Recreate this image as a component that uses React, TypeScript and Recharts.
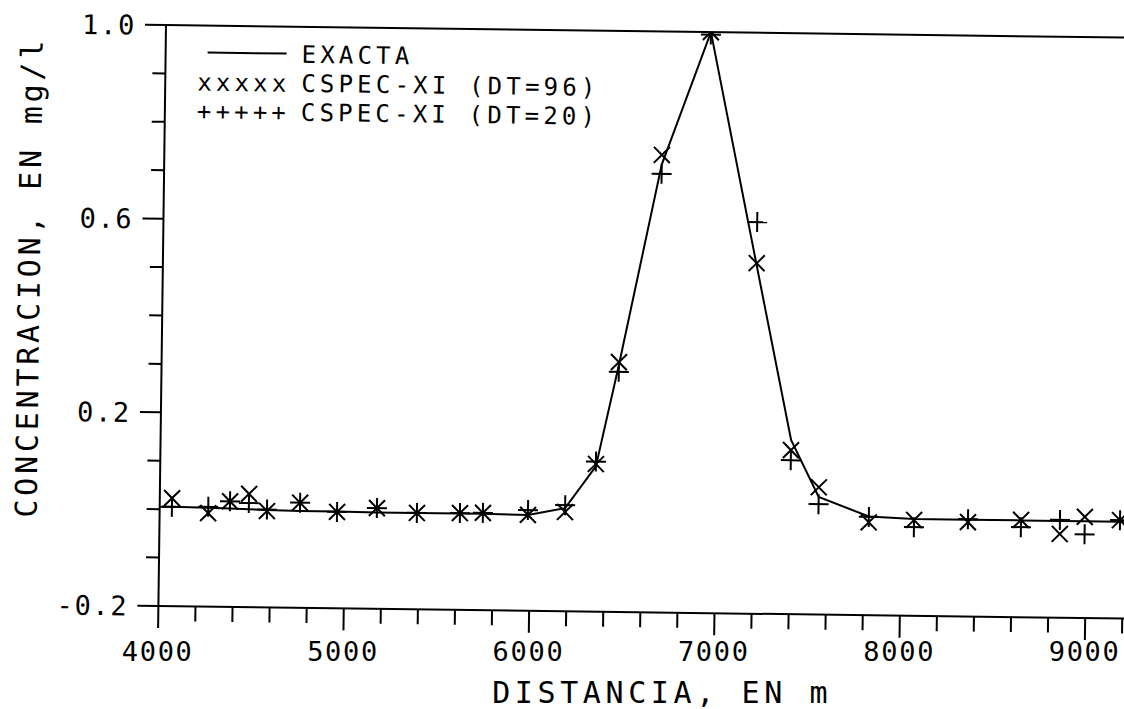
import {
  ComposedChart,
  Line,
  Scatter,
  XAxis,
  YAxis,
  ReferenceLine,
  Customized,
} from "recharts";

// distances (m) where the numerical solutions were sampled
const MARKER_X = [
  4066, 4262, 4379, 4481, 4579, 4757, 4957, 5172, 5388, 5620, 5744, 5987,
  6187, 6350, 6467, 6684, 6940, 7203, 7401, 7554, 7826, 8070, 8361, 8647,
  8857, 8991, 9181,
];
const DT96 = [
  0.023, -0.007, 0.018, 0.034, -0.001, 0.017, -0.001, 0.008, -0.001, 0.0,
  0.001, -0.002, 0.005, 0.105, 0.316, 0.745, 1.0, 0.524, 0.139, 0.063,
  -0.008, -0.002, -0.005, 0.001, -0.027, 0.009, 0.003,
];
const DT20 = [
  0.005, 0.006, 0.018, 0.015, 0.002, 0.017, -0.001, 0.008, -0.001, 0.0,
  0.001, 0.008, 0.019, 0.11, 0.296, 0.706, 0.995, 0.609, 0.118, 0.028,
  0.003, -0.017, 0.001, -0.014, 0.002, -0.027, 0.003,
];

const EXACT_X = [
  4000, 4066, 4262, 4379, 4481, 4579, 4757, 4957, 5172, 5388, 5620, 5744,
  5987, 6187, 6350, 6467, 6684, 6940, 7203, 7401, 7554, 7826, 8070, 8361,
  8647, 8857, 8991, 9181, 9400,
];
const EXACT_Y = [
  0.005, 0.005, 0.004, 0.003, 0.002, 0.001, 0.0, 0.0, -0.001, -0.001,
  -0.001, -0.001, -0.002, 0.013, 0.1, 0.31, 0.725, 1.0, 0.52, 0.16, 0.043,
  0.004, 0.0, 0.0, 0.0, 0.0, 0.0, 0.0, 0.0,
];

const X_TICKS = [
  4000, 4200, 4400, 4600, 4800, 5000, 5200, 5400, 5600, 5800, 6000, 6200,
  6400, 6600, 6800, 7000, 7200, 7400, 7600, 7800, 8000, 8200, 8400, 8600,
  8800, 9000, 9200, 9400,
];
const X_MAJOR = [4000, 5000, 6000, 7000, 8000, 9000];
const Y_TICKS = [-0.2, -0.1, 0, 0.1, 0.2, 0.3, 0.4, 0.5, 0.6, 0.7, 0.8, 0.9, 1.0];
const Y_MAJOR = [-0.2, 0.2, 0.6, 1.0];

const LEGEND = [
  { swatch: "line", label: "EXACTA" },
  { swatch: "xxxxx", label: "CSPEC-XI (DT=96)" },
  { swatch: "+++++", label: "CSPEC-XI (DT=20)" },
];

const X_TITLE = "DISTANCIA, EN m";
const Y_TITLE = "CONCENTRACION, EN mg/l";

// the scanned plot is turned slightly clockwise
const TILT = 0.75;
const SIN = Math.sin((TILT * Math.PI) / 180);
const PLOT_LEFT = 166;
const PLOT_TOP = 25;
const CHART_W = 1200;
const CHART_H = 709;

const FONT = "'DejaVu Sans Mono', 'Liberation Mono', monospace";
const tickFont = { fontFamily: FONT, fontSize: 27, letterSpacing: 1.7, fill: "#000" };
const legendFont = { fontFamily: FONT, fontSize: 24, letterSpacing: 4.2, fill: "#000" };
const titleFont = { fontFamily: FONT, fontSize: 30, letterSpacing: 4.6, fill: "#000" };

const exactData = EXACT_X.map((x, i) => ({ x, y: EXACT_Y[i] }));
const dt96Data = MARKER_X.map((x, i) => ({ x, y: DT96[i] }));
const dt20Data = MARKER_X.map((x, i) => ({ x, y: DT20[i] }));

function XTick(props: any) {
  const { x, y, payload } = props;
  const v = payload.value;
  const major = X_MAJOR.includes(v);
  // labels stay level on the page while the axis tilts
  const ly = y + 55 - (x - PLOT_LEFT) * SIN;
  return (
    <g>
      <line x1={x} x2={x} y1={y} y2={y + (major ? 22 : 15)} stroke="#000" strokeWidth={2} />
      {major && (
        <text
          x={x}
          y={ly}
          textAnchor="middle"
          transform={`rotate(${-TILT} ${x} ${ly})`}
          style={tickFont}
        >
          {v}
        </text>
      )}
    </g>
  );
}

function YTick(props: any) {
  const { x, y, payload } = props;
  const v = payload.value;
  const major = Y_MAJOR.some((m) => Math.abs(m - v) < 1e-6);
  return (
    <g>
      <line x1={x - (major ? 21 : 13)} x2={x} y1={y} y2={y} stroke="#000" strokeWidth={2} />
      {major && (
        <text x={x - 30} y={y + 10} textAnchor="end" style={tickFont}>
          {v.toFixed(1)}
        </text>
      )}
    </g>
  );
}

function Cross(props: any) {
  const { cx, cy } = props;
  const s = 8;
  return (
    <g stroke="#000" strokeWidth={2}>
      <line x1={cx - s} y1={cy - s} x2={cx + s} y2={cy + s} />
      <line x1={cx - s} y1={cy + s} x2={cx + s} y2={cy - s} />
    </g>
  );
}

function Plus(props: any) {
  const { cx, cy } = props;
  const s = 10;
  return (
    <g stroke="#000" strokeWidth={2}>
      <line x1={cx - s} y1={cy} x2={cx + s} y2={cy} />
      <line x1={cx} y1={cy - s} x2={cx} y2={cy + s} />
    </g>
  );
}

function Overlay() {
  const rows = [52, 81, 110];
  return (
    <g>
      {LEGEND.map((item, i) => (
        <g key={item.label}>
          {item.swatch === "line" ? (
            <line x1={208} x2={287} y1={rows[i]} y2={rows[i]} stroke="#000" strokeWidth={2} />
          ) : (
            <text x={198} y={rows[i] + 9} style={legendFont}>
              {item.swatch}
            </text>
          )}
          <text x={302} y={rows[i] + 9} style={legendFont}>
            {item.label}
          </text>
        </g>
      ))}
      <text
        x={671}
        y={696}
        textAnchor="middle"
        transform={`rotate(${-TILT} 671 696)`}
        style={titleFont}
      >
        {X_TITLE}
      </text>
      <text
        x={32}
        y={290}
        textAnchor="middle"
        transform="rotate(-90 32 279)"
        style={{ ...titleFont, letterSpacing: 3.8 }}
      >
        {Y_TITLE}
      </text>
    </g>
  );
}

export default function App() {
  return (
    <div
      style={{
        position: "fixed",
        left: 0,
        top: 0,
        width: 1124,
        height: 709,
        overflow: "hidden",
        background: "#fff",
      }}
    >
      <div
        style={{
          position: "absolute",
          left: 0,
          top: 0,
          width: CHART_W,
          height: CHART_H,
          transform: `rotate(${TILT}deg)`,
          transformOrigin: `${PLOT_LEFT}px ${PLOT_TOP}px`,
        }}
      >
        <ComposedChart
          width={CHART_W}
          height={CHART_H}
          margin={{ top: PLOT_TOP, left: PLOT_LEFT - 1, right: 33, bottom: 102 }}
        >
          <XAxis
            type="number"
            dataKey="x"
            domain={[4000, 9400]}
            ticks={X_TICKS}
            interval={0}
            height={1}
            tickSize={0}
            tickMargin={0}
            tickLine={false}
            axisLine={{ stroke: "#000", strokeWidth: 2 }}
            tick={<XTick />}
            allowDataOverflow
          />
          <YAxis
            type="number"
            dataKey="y"
            domain={[-0.2, 1.0]}
            ticks={Y_TICKS}
            interval={0}
            width={1}
            tickSize={0}
            tickMargin={0}
            tickLine={false}
            axisLine={{ stroke: "#000", strokeWidth: 2 }}
            tick={<YTick />}
            allowDataOverflow
          />
          <ReferenceLine y={1.0} stroke="#000" strokeWidth={2} />
          <Line
            data={exactData}
            dataKey="y"
            type="linear"
            stroke="#000"
            strokeWidth={2}
            dot={false}
            isAnimationActive={false}
          />
          <Scatter data={dt96Data} dataKey="y" shape={<Cross />} isAnimationActive={false} />
          <Scatter data={dt20Data} dataKey="y" shape={<Plus />} isAnimationActive={false} />
          <Customized component={<Overlay />} />
        </ComposedChart>
      </div>
    </div>
  );
}
